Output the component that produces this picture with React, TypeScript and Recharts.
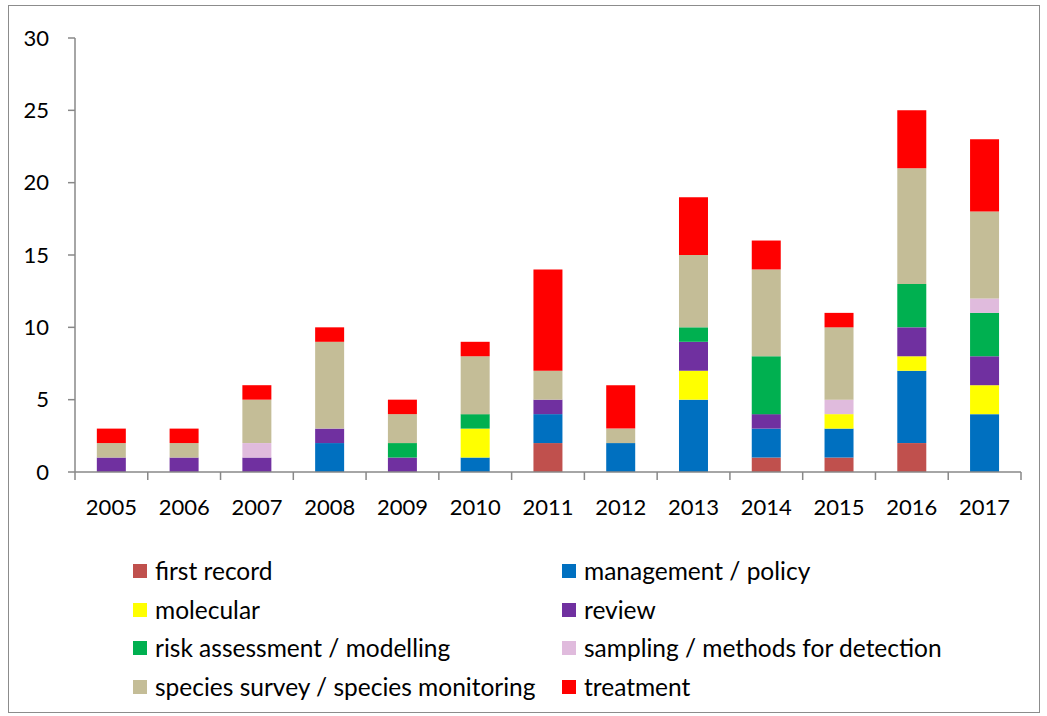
import { BarChart, Bar, XAxis, YAxis } from 'recharts'

const years = ['2005', '2006', '2007', '2008', '2009', '2010', '2011', '2012', '2013', '2014', '2015', '2016', '2017']

const firstRecord = [0, 0, 0, 0, 0, 0, 2, 0, 0, 1, 1, 2, 0]
const management = [0, 0, 0, 2, 0, 1, 2, 2, 5, 2, 2, 5, 4]
const molecular = [0, 0, 0, 0, 0, 2, 0, 0, 2, 0, 1, 1, 2]
const review = [1, 1, 1, 1, 1, 0, 1, 0, 2, 1, 0, 2, 2]
const risk = [0, 0, 0, 0, 1, 1, 0, 0, 1, 4, 0, 3, 3]
const sampling = [0, 0, 1, 0, 0, 0, 0, 0, 0, 0, 1, 0, 1]
const survey = [1, 1, 3, 6, 2, 4, 2, 1, 5, 6, 5, 8, 6]
const treatment = [1, 1, 1, 1, 1, 1, 7, 3, 4, 2, 1, 4, 5]

const yTicks = [0, 5, 10, 15, 20, 25, 30]

const series = [
  { key: 'first', name: 'first record', values: firstRecord, color: '#C0504D' },
  { key: 'mgmt', name: 'management / policy', values: management, color: '#0070C0' },
  { key: 'mol', name: 'molecular', values: molecular, color: '#FFFF00' },
  { key: 'rev', name: 'review', values: review, color: '#7030A0' },
  { key: 'risk', name: 'risk assessment / modelling', values: risk, color: '#00B050' },
  { key: 'samp', name: 'sampling / methods for detection', values: sampling, color: '#E0BBDD' },
  { key: 'surv', name: 'species survey / species monitoring', values: survey, color: '#C4BD97' },
  { key: 'treat', name: 'treatment', values: treatment, color: '#FF0000' },
]

const chartData = years.map((year, i) => {
  const row: Record<string, string | number> = { year }
  series.forEach(s => { row[s.key] = s.values[i] })
  return row
})

const font = 'Lato, "Open Sans", sans-serif'
const axisColor = '#888888'

// Excel-style category axis: tick marks sit between the categories
const YearTick = ({ x, y, payload, index }: any) => {
  const half = payload?.offset ?? 36.4
  return (
    <g>
      <line x1={x - half} x2={x - half} y1={y} y2={y + 8} stroke={axisColor} strokeWidth={1.5} />
      {index === years.length - 1 && (
        <line x1={x + half} x2={x + half} y1={y} y2={y + 8} stroke={axisColor} strokeWidth={1.5} />
      )}
      <text x={x} y={y + 43} textAnchor="middle" fontSize={22} fontFamily={font} fill="#000">
        {payload.value}
      </text>
    </g>
  )
}

export default function App() {
  return (
    <div style={{ position: 'absolute', left: 0, top: 0, width: 1047, height: 716, background: '#fff' }}>
      <div style={{ position: 'absolute', left: 8, top: 5, width: 1032, height: 708, border: '1px solid #8c8c8c', boxSizing: 'border-box' }} />
      <div style={{ position: 'absolute', left: 0, top: 0 }}>
        <BarChart width={1047} height={530} data={chartData}
          margin={{ top: 38, right: 26, left: 15, bottom: 28 }} barCategoryGap="30%">
          <XAxis dataKey="year" tick={<YearTick />} tickLine={false} tickSize={0} tickMargin={0}
            axisLine={{ stroke: axisColor, strokeWidth: 1.5 }} height={30} interval={0} />
          <YAxis domain={[0, 30]} ticks={yTicks} width={60} tickSize={7} tickMargin={19}
            axisLine={{ stroke: axisColor, strokeWidth: 1.5 }} tickLine={{ stroke: axisColor, strokeWidth: 1.5 }}
            tick={{ fontSize: 22, fill: '#000', fontFamily: font }} interval={0} />
          {series.map(s => (
            <Bar key={s.key} dataKey={s.key} name={s.name} stackId="a" fill={s.color} isAnimationActive={false} />
          ))}
        </BarChart>
      </div>
      {series.map((s, i) => (
        <div key={s.key} style={{
          position: 'absolute', left: 133 + (i % 2) * 429, top: 556 + Math.floor(i / 2) * 38.5,
          display: 'flex', alignItems: 'center', fontFamily: font, fontSize: 24.5, lineHeight: '30px',
          color: '#000', whiteSpace: 'nowrap',
        }}>
          <span style={{ width: 14, height: 14, background: s.color, marginRight: 8, display: 'inline-block' }} />
          <span>{s.name}</span>
        </div>
      ))}
    </div>
  )
}
